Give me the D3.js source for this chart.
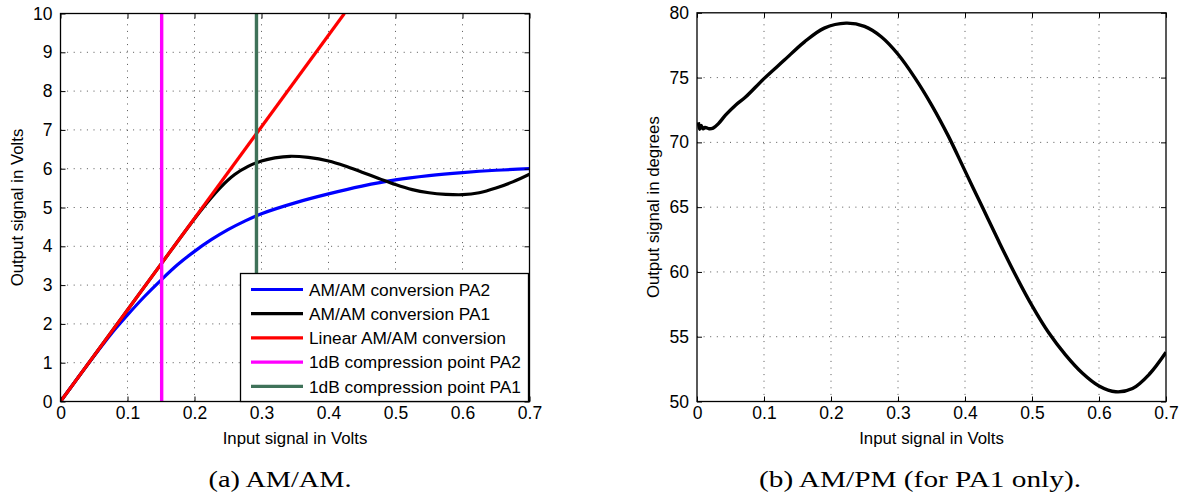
<!DOCTYPE html>
<html>
<head>
<meta charset="utf-8">
<script src="https://cdn.jsdelivr.net/npm/d3@7/dist/d3.min.js"></script>
<style>
  html, body { margin: 0; padding: 0; background: #fff; }
  svg { display: block; }
  text { font-family: "Liberation Sans", Arial, Helvetica, sans-serif; fill: #000; }
  .caption { font-family: "Liberation Serif", "Times New Roman", serif; }
</style>
</head>
<body>
<svg id="chart" width="1192" height="501"></svg>
<script>
// ---------------- DATA ----------------
const xTickValues = [0, 0.1, 0.2, 0.3, 0.4, 0.5, 0.6, 0.7];
const amYTickValues = [0, 1, 2, 3, 4, 5, 6, 7, 8, 9, 10];
const pmYTickValues = [50, 55, 60, 65, 70, 75, 80];

// AM/AM conversion PA2 (blue)
const pa2X = [0, 0.025, 0.05, 0.075, 0.1, 0.125, 0.15, 0.175, 0.2, 0.225, 0.25, 0.275, 0.3, 0.35, 0.4, 0.45, 0.5, 0.55, 0.6, 0.65, 0.7];
const pa2Y = [0, 0.59, 1.17, 1.73, 2.23, 2.7, 3.13, 3.53, 3.87, 4.17, 4.43, 4.65, 4.84, 5.12, 5.35, 5.55, 5.71, 5.82, 5.9, 5.96, 6.0];

// AM/AM conversion PA1 (black)
const pa1X = [0, 0.05, 0.1, 0.15, 0.2, 0.22, 0.24, 0.26, 0.28, 0.3, 0.32, 0.343, 0.37, 0.4, 0.425, 0.45, 0.475, 0.5, 0.525, 0.55, 0.575, 0.6, 0.625, 0.65, 0.675, 0.7];
const pa1Y = [0, 1.18, 2.36, 3.54, 4.71, 5.15, 5.54, 5.85, 6.06, 6.2, 6.28, 6.32, 6.29, 6.2, 6.07, 5.91, 5.75, 5.59, 5.46, 5.38, 5.34, 5.33, 5.38, 5.5, 5.66, 5.86];

// Linear AM/AM conversion (red)
const linX = [0, 0.4237];
const linY = [0, 10];

// 1dB compression points
const comp2X = 0.151;
const comp1X = 0.2925;

// AM/PM conversion PA1
const pmX = [0.002, 0.004, 0.006, 0.009, 0.012, 0.018, 0.024, 0.032, 0.0425, 0.0575, 0.0725, 0.1, 0.13, 0.16, 0.19, 0.2225, 0.25, 0.275, 0.3, 0.325, 0.35, 0.375, 0.4, 0.425, 0.45, 0.475, 0.5, 0.525, 0.55, 0.575, 0.6, 0.625, 0.65, 0.675, 0.7];
const pmY = [71.55, 71.0, 71.3, 71.05, 71.15, 71.05, 71.1, 71.45, 72.1, 72.87, 73.5, 74.92, 76.33, 77.74, 78.82, 79.2, 78.95, 78.15, 76.8, 75.0, 72.9, 70.5, 67.8, 65.1, 62.4, 59.8, 57.4, 55.3, 53.6, 52.2, 51.2, 50.75, 51.0, 52.1, 53.8];

const legendLabels = ["AM/AM conversion PA2", "AM/AM conversion PA1", "Linear AM/AM conversion", "1dB compression point PA2", "1dB compression point PA1"];
const legendColors = ["#0000ff", "#000000", "#ff0000", "#ff00ff", "#3f7259"];

// ---------------- DRAW ----------------
const svg = d3.select("#chart");
const FONT = '"Liberation Sans", Arial, sans-serif';

function drawGrid(g, x, y, xTicks, yTicks) {
  const [x0, x1] = x.range();
  const [y0, y1] = y.range();
  const grid = g.append("g").attr("stroke", "#555").attr("stroke-width", 1).attr("stroke-dasharray", "1,5.6");
  xTicks.slice(1, -1).forEach(t => {
    grid.append("line").attr("x1", x(t)).attr("x2", x(t)).attr("y1", y0).attr("y2", y1);
  });
  yTicks.slice(1, -1).forEach(t => {
    grid.append("line").attr("x1", x0).attr("x2", x1).attr("y1", y(t)).attr("y2", y(t));
  });
}

function drawBox(g, x, y, xTicks, yTicks, xLabelText, yLabelText, yLabelX) {
  const [x0, x1] = x.range();
  const [y0, y1] = y.range();
  const tl = 5;
  const xAxisB = d3.axisBottom(x).tickValues(xTicks).tickSize(-tl).tickPadding(9)
    .tickFormat(d => d === 0 ? "0" : d3.format(".1f")(d));
  const xAxisT = d3.axisTop(x).tickValues(xTicks).tickSize(-tl).tickFormat("");
  const yAxisL = d3.axisLeft(y).tickValues(yTicks).tickSize(-tl).tickPadding(8).tickFormat(d3.format("d"));
  const yAxisR = d3.axisRight(y).tickValues(yTicks).tickSize(-tl).tickFormat("");

  const gb = g.append("g").attr("transform", `translate(0,${y0})`).call(xAxisB);
  const gt = g.append("g").attr("transform", `translate(0,${y1})`).call(xAxisT);
  const gl = g.append("g").attr("transform", `translate(${x0},0)`).call(yAxisL);
  const gr = g.append("g").attr("transform", `translate(${x1},0)`).call(yAxisR);
  [gb, gt, gl, gr].forEach(a => {
    a.select(".domain").remove();
    a.selectAll("line").attr("stroke", "#000").attr("stroke-width", 1);
    a.selectAll("text").attr("font-size", 17.5).attr("font-family", FONT).attr("fill", "#000");
  });
  gb.selectAll("text").attr("dy", "0.72em").attr("y", 5);
  g.append("rect").attr("x", x0).attr("y", y1).attr("width", x1 - x0).attr("height", y0 - y1)
    .attr("fill", "none").attr("stroke", "#000").attr("stroke-width", 1.3);
  g.append("text").attr("x", (x0 + x1) / 2).attr("y", 444).attr("text-anchor", "middle")
    .attr("font-size", 16.8).text(xLabelText);
  g.append("text").attr("transform", `translate(${yLabelX},${(y0 + y1) / 2}) rotate(-90)`)
    .attr("text-anchor", "middle").attr("font-size", 16.8).text(yLabelText);
}

// ----- Left chart: AM/AM -----
const xA = d3.scaleLinear().domain([0, 0.7]).range([60.5, 529.5]);
const yA = d3.scaleLinear().domain([0, 10]).range([401.5, 13.5]);
const gA = svg.append("g");
drawGrid(gA, xA, yA, xTickValues, amYTickValues);

const defs = svg.append("defs");
defs.append("clipPath").attr("id", "clipA")
  .append("rect").attr("x", 60.5).attr("y", 13.5).attr("width", 469).attr("height", 388);

const lineA = d3.line().x(d => xA(d[0])).y(d => yA(d[1])).curve(d3.curveCatmullRom.alpha(0.5));
const plotA = gA.append("g").attr("clip-path", "url(#clipA)");
plotA.append("path").datum(d3.zip(pa2X, pa2Y)).attr("d", lineA)
  .attr("fill", "none").attr("stroke", legendColors[0]).attr("stroke-width", 3.2);
plotA.append("path").datum(d3.zip(pa1X, pa1Y)).attr("d", lineA)
  .attr("fill", "none").attr("stroke", legendColors[1]).attr("stroke-width", 3.2);
plotA.append("path").datum(d3.zip(linX, linY)).attr("d", d3.line().x(d => xA(d[0])).y(d => yA(d[1])))
  .attr("fill", "none").attr("stroke", legendColors[2]).attr("stroke-width", 3.2);
plotA.append("line").attr("x1", xA(comp2X)).attr("x2", xA(comp2X)).attr("y1", yA(0)).attr("y2", yA(10))
  .attr("stroke", legendColors[3]).attr("stroke-width", 3.4);
plotA.append("line").attr("x1", xA(comp1X)).attr("x2", xA(comp1X)).attr("y1", yA(0)).attr("y2", yA(10))
  .attr("stroke", legendColors[4]).attr("stroke-width", 3.4);

drawBox(gA, xA, yA, xTickValues, amYTickValues, "Input signal in Volts", "Output signal in Volts", 23);

// legend
const leg = gA.append("g");
leg.append("rect").attr("x", 240.5).attr("y", 273.5).attr("width", 288).attr("height", 128)
  .attr("fill", "#fff").attr("stroke", "#000").attr("stroke-width", 1.3);
legendLabels.forEach((lab, i) => {
  const cy = 289.5 + i * 24.2;
  leg.append("line").attr("x1", 251).attr("x2", 303).attr("y1", cy).attr("y2", cy)
    .attr("stroke", legendColors[i]).attr("stroke-width", 3.2);
  leg.append("text").attr("x", 309).attr("y", cy).attr("dy", "0.36em").attr("font-size", 17.3).text(lab);
});

// ----- Right chart: AM/PM -----
const xB = d3.scaleLinear().domain([0, 0.7]).range([697, 1166]);
const yB = d3.scaleLinear().domain([50, 80]).range([401.5, 12.8]);
const gB = svg.append("g");
drawGrid(gB, xB, yB, xTickValues, pmYTickValues);
defs.append("clipPath").attr("id", "clipB")
  .append("rect").attr("x", 697).attr("y", 12.8).attr("width", 469).attr("height", 388.7);
const lineB = d3.line().x(d => xB(d[0])).y(d => yB(d[1])).curve(d3.curveCatmullRom.alpha(0.5));
gB.append("g").attr("clip-path", "url(#clipB)").append("path").datum(d3.zip(pmX, pmY)).attr("d", lineB)
  .attr("fill", "none").attr("stroke", "#000").attr("stroke-width", 3.4).attr("stroke-linejoin", "round");
drawBox(gB, xB, yB, xTickValues, pmYTickValues, "Input signal in Volts", "Output signal in degrees", 659);

// captions
svg.append("text").attr("class", "caption").attr("x", 280).attr("y", 487).attr("text-anchor", "middle")
  .attr("font-size", 24).attr("textLength", 143).attr("lengthAdjust", "spacingAndGlyphs").text("(a) AM/AM.");
svg.append("text").attr("class", "caption").attr("x", 920).attr("y", 487).attr("text-anchor", "middle")
  .attr("font-size", 24).attr("textLength", 322).attr("lengthAdjust", "spacingAndGlyphs").text("(b) AM/PM (for PA1 only).");
</script>
</body>
</html>
